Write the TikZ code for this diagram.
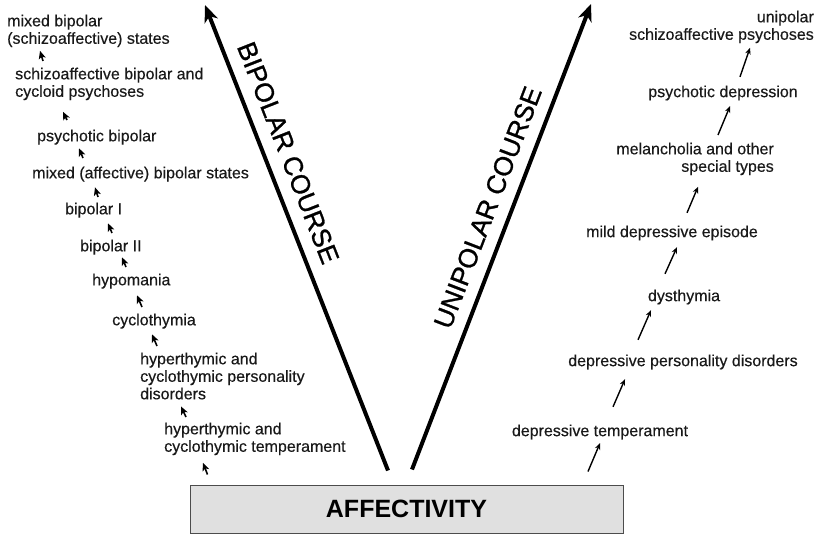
\documentclass[tikz,border=0pt]{standalone}
\usepackage{fontspec}
\setmainfont{Liberation Sans}
\usetikzlibrary{arrows.meta,positioning}

\begin{document}
\begin{tikzpicture}[x=1pt,y=-1pt,
    lbl/.style={inner sep=0pt,font=\fontsize{16}{17.5}\selectfont\addfontfeature{FakeBold=0.4},text=black!90},
    lleft/.style={lbl,align=left,anchor=north west},
    lright/.style={lbl,align=right,anchor=north east},
    bparr/.style={line width=1.6pt,-{Stealth[length=8pt,width=7pt,inset=2pt]}},
    uparr/.style={line width=1.4pt,-{Stealth[length=6.5pt,width=5.5pt]}},
    course/.style={line width=4pt,-{Stealth[length=17pt,width=14pt,inset=5pt]}},
    coursetext/.style={sloped,anchor=south,inner sep=12pt,font=\fontsize{26.5}{30}\selectfont\addfontfeature{FakeBold=1}},
    affbox/.style={draw=black!70,line width=1pt,fill=black!12,minimum width=433pt,
      minimum height=48pt,inner sep=0pt,font=\fontsize{25}{30}\selectfont\bfseries}]

    \useasboundingbox (0,0) rectangle (819,535);

    \node[affbox] (aff) at (406.5,509) {AFFECTIVITY\hspace{12pt}};

    % bipolar side
    \node[lleft] (mbs) at (7,14.5) {mixed bipolar\\(schizoaffective) states};
    \node[lleft] (sba) at (15,67.5) {schizoaffective bipolar and\\cycloid psychoses};
    \node[lleft] (psb) at (37,129.5) {psychotic bipolar};
    \node[lleft] (mab) at (32,166.5) {mixed (affective) bipolar states};
    \node[lleft] (bp1) at (65,202.5) {bipolar I};
    \node[lleft] (bp2) at (80,239.5) {bipolar II};
    \node[lleft] (hyp) at (92,273.5) {hypomania};
    \node[lleft] (cyc) at (112,313.5) {cyclothymia};
    \node[lleft] (hpd) at (140,352.5) {hyperthymic and\\cyclothymic personality\\disorders};
    \node[lleft] (hct) at (164,422.5) {hyperthymic and\\cyclothymic temperament};

    % unipolar side
    \node[lright] (uni) at (814,10.5) {unipolar\\schizoaffective psychoses};
    \node[lbl] (psd) at (723,93) {psychotic depression};
    \node[lright] (mel) at (774,142.5) {melancholia and other\\special types};
    \node[lbl] (mde) at (672,233) {mild depressive episode};
    \node[lbl] (dys) at (684,297) {dysthymia};
    \node[lbl] (dpd) at (683,362) {depressive personality disorders};
    \node[lbl] (dtm) at (600,432) {depressive temperament};

    \coordinate (bptip) at (205,5);
    \coordinate (uptip) at (591,4);

    \draw[course] ([shift={(-18.5,-14)}]aff.north) -- node[coursetext,pos=0.664] {BIPOLAR COURSE} (bptip);
    \draw[course] ([shift={(5.5,-15)}]aff.north) -- node[coursetext,pos=0.545] {UNIPOLAR COURSE} (uptip);

    \draw[bparr] ([shift={(28,-6.5)}]sba.north west) -- ([shift={(33,3.5)}]mbs.south west);
    \draw[bparr] ([shift={(30,-9.5)}]psb.north west) -- ([shift={(48,11.5)}]sba.south west);
    \draw[bparr] ([shift={(51,-8.5)}]mab.north west) -- ([shift={(42,3.5)}]psb.south west);
    \draw[bparr] ([shift={(33,-5.5)}]bp1.north west) -- ([shift={(63,5.5)}]mab.south west);
    \draw[bparr] ([shift={(32,-6.5)}]bp2.north west) -- ([shift={(43,5.5)}]bp1.south west);
    \draw[bparr] ([shift={(34,-6.5)}]hyp.north west) -- ([shift={(42,2.5)}]bp2.south west);
    \draw[bparr] ([shift={(30,-6.5)}]cyc.north west) -- ([shift={(45,6.5)}]hyp.south west);
    \draw[bparr] ([shift={(17,-6.5)}]hpd.north west) -- ([shift={(40,5.5)}]cyc.south west);
    \draw[bparr] ([shift={(22,-5.5)}]hct.north west) -- ([shift={(41,6.8)}]hpd.south west);
    \draw[bparr] ([shift={(18,-10)}]aff.north west) -- ([shift={(39,7.5)}]hct.south west);

    \draw[uparr] ([shift={(17,-8.5)}]psd.north) -- ([shift={(-64,4.5)}]uni.south east);
    \draw[uparr] ([shift={(-56,-7.5)}]mel.north east) -- ([shift={(7,5.5)}]psd.south);
    \draw[uparr] ([shift={(15,-12.5)}]mde.north) -- ([shift={(-76,11.5)}]mel.south east);
    \draw[uparr] ([shift={(-19,-15.5)}]dys.north) -- ([shift={(5,6.5)}]mde.south);
    \draw[uparr] ([shift={(-45,-14.5)}]dpd.north) -- ([shift={(-33,5.5)}]dys.south);
    \draw[uparr] ([shift={(13,-17.5)}]dtm.north) -- ([shift={(-58,9.5)}]dpd.south);
    \draw[uparr] ([shift={(181.5,-13)}]aff.north) -- ([shift={(0,3.5)}]dtm.south);

\end{tikzpicture}
\end{document}
